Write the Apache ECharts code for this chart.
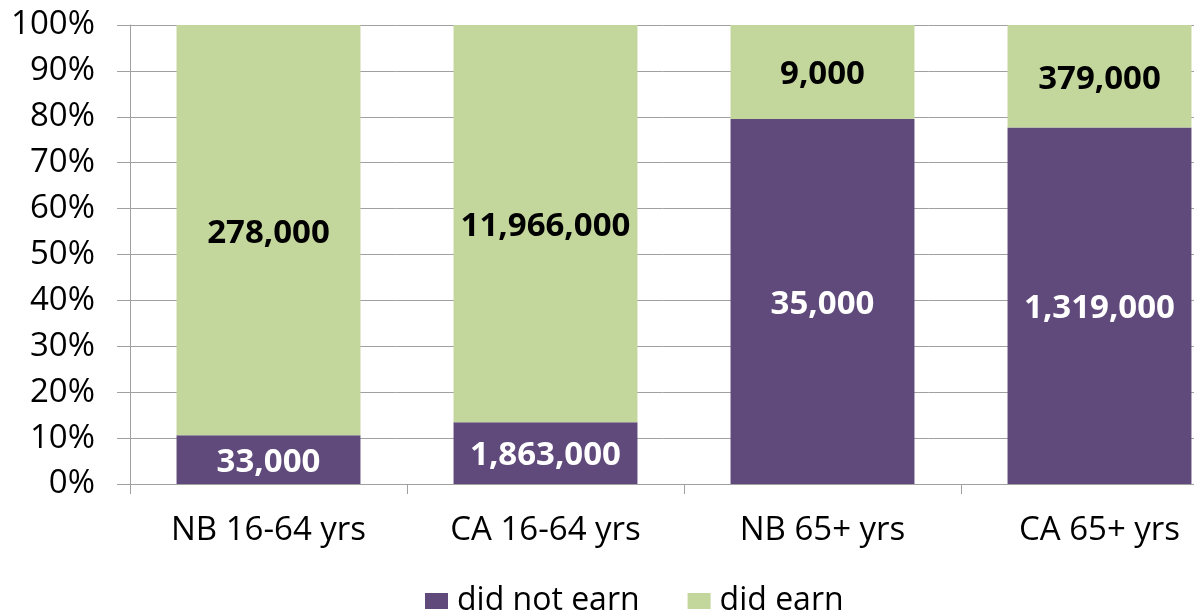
<!DOCTYPE html>
<html><head><meta charset="utf-8">
<script src="https://cdn.jsdelivr.net/npm/echarts@6/dist/echarts.min.js"></script>
<style>html,body{margin:0;padding:0;background:#fff}#c{width:1194px;height:615px}</style>
</head><body><div id="c"></div>
<script>
const categories = ['NB 16-64 yrs', 'CA 16-64 yrs', 'NB 65+ yrs', 'CA 65+ yrs'];
const didNotEarn = [33000, 1863000, 35000, 1319000];
const didEarn = [278000, 11966000, 9000, 379000];
const seriesNames = ['did not earn', 'did earn'];

const totals = categories.map((_, i) => didNotEarn[i] + didEarn[i]);
const pct = arr => arr.map((v, i) => v / totals[i] * 100);
const fmt = v => v.toLocaleString('en-US');
const FONT = 'Open Sans';

const chart = echarts.init(document.getElementById('c'));
chart.setOption({
  animation: false,
  textStyle: { fontFamily: FONT },
  grid: { left: 130, width: 1108, top: 25, height: 459, containLabel: false, outerBoundsMode: 'none' },
  legend: {
    left: 420, top: 580,
    itemWidth: 23, itemHeight: 16, itemGap: 48,
    icon: 'rect',
    textStyle: { fontFamily: FONT, fontSize: 32, color: '#000', padding: [0, 0, 0, 4] },
    data: seriesNames
  },
  xAxis: {
    type: 'category', data: categories,
    axisLine: { lineStyle: { color: '#A0A0A0', width: 1 } },
    axisTick: { show: true, length: 10, lineStyle: { color: '#A0A0A0' } },
    axisLabel: { fontFamily: FONT, fontSize: 33, color: '#000', margin: 30 },
    splitLine: { show: false }
  },
  yAxis: {
    type: 'value', min: 0, max: 100, interval: 10,
    axisLine: { show: true, lineStyle: { color: '#A0A0A0' } },
    axisTick: { show: true, inside: false, length: 13, lineStyle: { color: '#A0A0A0' } },
    axisLabel: { fontFamily: FONT, fontSize: 33, color: '#000', margin: 35, formatter: '{value}%' },
    splitLine: { show: true, lineStyle: { color: '#A0A0A0', width: 1 } }
  },
  series: [
    {
      name: seriesNames[0], type: 'bar', stack: 's', barCategoryGap: '33.6%',
      data: pct(didNotEarn),
      itemStyle: { color: '#604A7B' },
      label: { show: true, position: 'inside', offset: [0, 3], fontFamily: FONT, fontSize: 33, fontWeight: 'bold', color: '#fff',
        formatter: p => fmt(didNotEarn[p.dataIndex]) }
    },
    {
      name: seriesNames[1], type: 'bar', stack: 's',
      data: pct(didEarn),
      itemStyle: { color: '#C3D69B' },
      label: { show: true, position: 'inside', offset: [0, 3], fontFamily: FONT, fontSize: 33, fontWeight: 'bold', color: '#000',
        formatter: p => fmt(didEarn[p.dataIndex]) }
    }
  ]
});
</script></body></html>
